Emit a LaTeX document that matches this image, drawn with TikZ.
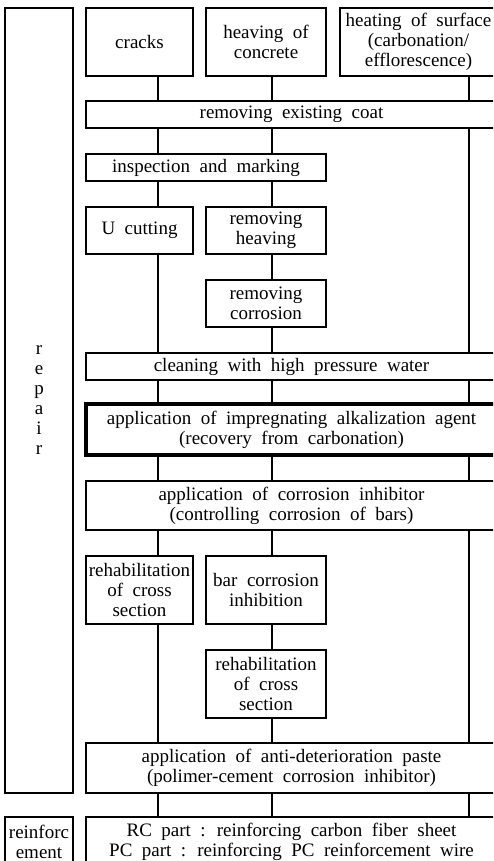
\documentclass[tikz,border=0pt]{standalone}
\usepackage{fontspec}
\setmainfont{Liberation Serif}[WordSpace=2]
\usetikzlibrary{positioning}

\begin{document}
\begin{tikzpicture}[x=0.5pt, y=-0.5pt,
    bx/.style={rectangle, draw, line width=0.6pt, inner sep=1pt, align=center,
               font=\fontsize{9.5}{10}\selectfont},
    nar/.style={bx, minimum width=53.5pt},
    med/.style={bx, minimum width=60pt},
    wide/.style={bx, minimum width=205.5pt},
    side/.style={bx, minimum width=34pt},
    link/.style={line width=0.6pt}
  ]
  \useasboundingbox (0,0) rectangle (493,861);
  \clip (0,0) rectangle (493,861);

  % left labels
  \node[side, minimum height=392.5pt] (rep) at (39,400.5) {r\\e\\p\\a\\i\\r};
  \node[side, minimum height=25pt]    (rfc) at (39,842)   {reinforc\\ement};

  % causes
  \node[nar, minimum height=34pt] (crk) at (139.5,42) {cracks};
  \node[med, minimum height=34pt] (hv)  at (266,42)   {heaving of\\concrete};
  \node[bx, minimum width=78.5pt, minimum height=34pt] (ht) at (418.5,42)
       {heating of surface\\(carbonation/\\efflorescence)};

  % repair steps
  \node[wide, minimum height=13.5pt] (coat) at (291.5,114.5) {removing existing coat};
  \node[bx, minimum width=120pt, minimum height=13.5pt] (insp) at (206,167.5) {inspection and marking};
  \node[nar, minimum height=23.5pt] (uc)  at (139.5,230.5) {U cutting};
  \node[med, minimum height=23.5pt] (rh)  at (266,230.5)   {removing\\heaving};
  \node[med, minimum height=23.5pt] (rc)  at (266,303.5)   {removing\\corrosion};
  \node[wide, minimum height=13.5pt] (cl) at (291.5,366.5) {cleaning with high pressure water};
  \node[wide, minimum height=25.5pt, line width=1.6pt] (alk) at (291.5,429.5)
       {application of impregnating alkalization agent\\(recovery from carbonation)};
  \node[wide, minimum height=24.5pt] (inh) at (291.5,505.5)
       {application of corrosion inhibitor\\(controlling corrosion of bars)};
  \node[nar, minimum height=34pt] (rxl) at (139.5,590) {rehabilitation\\of cross\\section};
  \node[med, minimum height=34pt] (bar) at (266,590)   {bar corrosion\\inhibition};
  \node[med, minimum height=34pt] (rxm) at (266,684)   {rehabilitation\\of cross\\section};
  \node[wide, minimum height=25pt] (pst) at (291.5,768)
       {application of anti-deterioration paste\\(polimer-cement corrosion inhibitor)};
  \node[wide, minimum height=25pt] (cf) at (291.5,842)
       {RC part : reinforcing carbon fiber sheet\\PC part : reinforcing PC reinforcement wire};

  % flow columns
  \coordinate (ca) at (158,0);
  \coordinate (cb) at (272,0);
  \coordinate (cc) at (469,0);
  \foreach \a/\b in {crk/coat, coat/insp, insp/uc, uc/cl, cl/alk, alk/inh, inh/rxl, rxl/pst, pst/cf}
    \draw[link] (\a.south -| ca) -- (\b.north -| ca);
  \foreach \a/\b in {hv/coat, coat/insp, insp/rh, rh/rc, rc/cl, cl/alk, alk/inh, inh/bar, bar/rxm, rxm/pst, pst/cf}
    \draw[link] (\a.south -| cb) -- (\b.north -| cb);
  \foreach \a/\b in {ht/coat, coat/cl, cl/alk, alk/inh, inh/pst, pst/cf}
    \draw[link, line width=0.9pt] (\a.south -| cc) -- (\b.north -| cc);
\end{tikzpicture}
\end{document}
